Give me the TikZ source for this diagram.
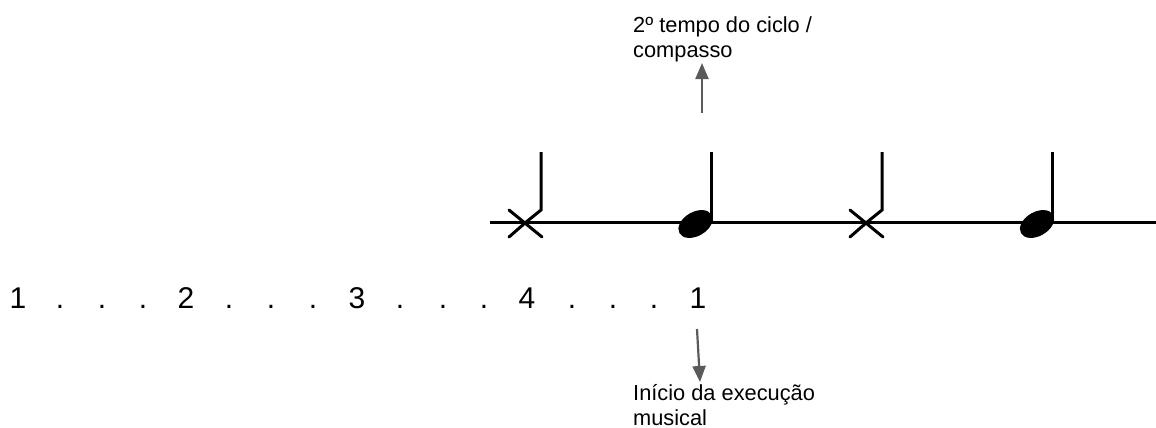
\documentclass[tikz,border=0pt]{standalone}
\usepackage{fontspec}
\setmainfont{Liberation Sans}
\usetikzlibrary{arrows.meta}
\definecolor{arrowgray}{HTML}{5A5A5A}
\tikzset{
  staffline/.style={line width=3pt, black},
  notestem/.style={line width=3pt, black},
  crossarm/.style={line width=3pt, black, line cap=round},
  headfill/.style={fill=black},
  pointer/.style={line width=2.2pt, arrowgray, -{Triangle[length=16pt,width=13pt]}},
  count/.style={inner sep=0pt, anchor=base, font=\fontsize{30}{34}\selectfont},
  label/.style={inner sep=0pt, anchor=base west, font=\fontsize{21.8}{25}\selectfont},
}
\begin{document}
\begin{tikzpicture}[x=1pt, y=-1pt]
  \useasboundingbox (0,0) rectangle (1156,428);

  % rhythmic line
  \coordinate (lineL) at (490,222);
  \coordinate (lineR) at (1156,222);
  \draw[staffline] (lineL) -- (lineR);

  % first cross-head note
  \draw[notestem, line join=miter] (541,152) -- (541,210) -- (525,223);
  \draw[crossarm] (525,223) -- (509,237);
  \draw[crossarm] (509,210) -- (542,237);

  % first filled note
  \fill[headfill, rotate around={30:(695.5,224)}] (695.5,224) ellipse [x radius=18.5, y radius=12];
  \draw[notestem] (711,152) -- (711,222);

  % second cross-head note
  \draw[notestem, line join=miter] (882,152) -- (882,210) -- (866,223);
  \draw[crossarm] (866,223) -- (850,237);
  \draw[crossarm] (850,210) -- (883,237);

  % second filled note
  \fill[headfill, rotate around={30:(1037,224)}] (1037,224) ellipse [x radius=18.5, y radius=12];
  \draw[notestem] (1052.5,152) -- (1052.5,222);

  % counting row
  \node[count] (c1) at (18,308) {1};
  \node[count] (d1) at (60,308) {.};
  \node[count] (d2) at (102,308) {.};
  \node[count] (d3) at (143,308) {.};
  \node[count] (c2) at (186,308) {2};
  \node[count] (d4) at (229,308) {.};
  \node[count] (d5) at (271,308) {.};
  \node[count] (d6) at (313,308) {.};
  \node[count] (c3) at (357,308) {3};
  \node[count] (d7) at (400,308) {.};
  \node[count] (d8) at (443,308) {.};
  \node[count] (d9) at (484,308) {.};
  \node[count] (c4) at (527,308) {4};
  \node[count] (d10) at (572,308) {.};
  \node[count] (d11) at (613,308) {.};
  \node[count] (d12) at (654,308) {.};
  \node[count] (c5) at (698,308) {1};

  % labels
  \node[label] (beatA) at (633,33) {2º tempo do ciclo /};
  \node[label] (beatB) at (633,57) {compasso};
  \node[label] (startA) at (633,400) {Início da execução};
  \node[label] (startB) at (633,425) {musical};

  % pointers
  \coordinate (upFrom) at (702,113);
  \coordinate (upTip) at (702,63);
  \draw[pointer] (upFrom) -- (upTip);
  \coordinate (downFrom) at (697,329);
  \coordinate (downTip) at (700,382);
  \draw[pointer] (downFrom) -- (downTip);
\end{tikzpicture}
\end{document}
